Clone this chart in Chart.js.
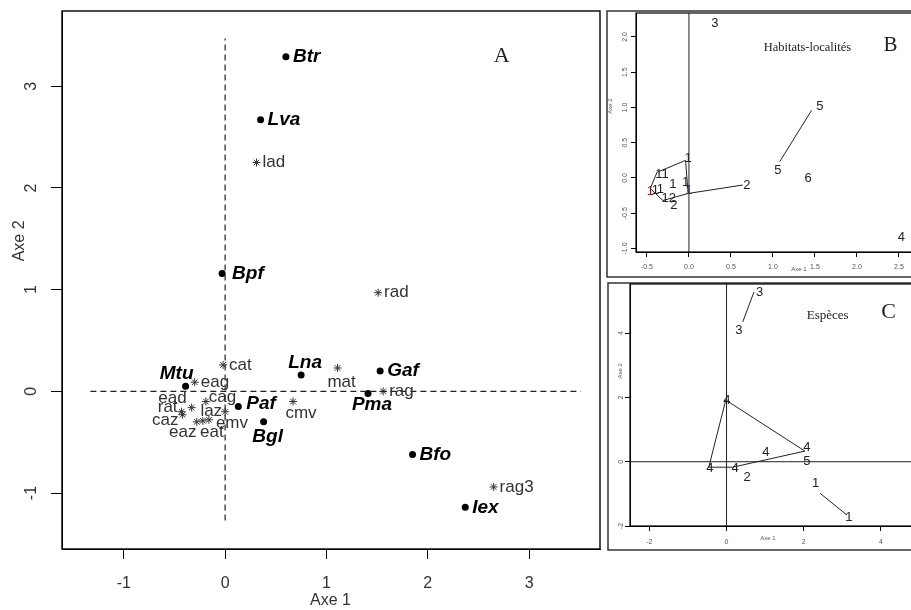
<!DOCTYPE html>
<html>
<head>
<meta charset="utf-8">
<script src="https://cdn.jsdelivr.net/npm/chart.js@4.4.1/dist/chart.umd.min.js"></script>
<style>
  html, body { margin: 0; padding: 0; background: #fff; width: 911px; height: 610px; overflow: hidden; position: relative; }
  .panel { position: absolute; }
  #boxA { left: 0; top: 0; width: 605px; height: 610px; }
  #boxB { left: 600px; top: 0; width: 330px; height: 280px; }
  #boxC { left: 600px; top: 280px; width: 330px; height: 280px; }
</style>
</head>
<body>
<div class="panel" id="boxA"><canvas id="chartA"></canvas></div>
<div class="panel" id="boxB"><canvas id="chartB"></canvas></div>
<div class="panel" id="boxC"><canvas id="chartC"></canvas></div>
<script>
// ---- Panel A : stations (bold) and variables (*) on axes 1-2
const siteNames = ["Btr", "Lva", "Bpf", "Mtu", "Lna", "Gaf", "Pma", "Paf", "Bgl", "Bfo", "Iex"];
const siteAxe1  = [0.60, 0.35, -0.03, -0.39, 0.75, 1.53, 1.41, 0.13, 0.38, 1.85, 2.37];
const siteAxe2  = [3.29, 2.67, 1.16, 0.05, 0.16, 0.20, -0.02, -0.15, -0.30, -0.62, -1.14];

const varNames = ["lad", "rad", "cat", "mat", "eag", "rag", "cag", "ead", "rat", "laz", "caz", "eaz", "eat", "emv", "cmv", "rag3"];
const varAxe1  = [0.31, 1.51, -0.02, 1.11, -0.30, 1.56, -0.19, -0.33, -0.43, 0.00, -0.42, -0.28, -0.22, -0.16, 0.67, 2.65];
const varAxe2  = [2.25, 0.97, 0.26, 0.23, 0.09, 0.00, -0.10, -0.16, -0.20, -0.20, -0.23, -0.30, -0.29, -0.28, -0.10, -0.94];

const crossA1 = [-1.33, 3.51];   // horizontal dashed axis (Axe 1 extent)
const crossA2 = [-1.27, 3.47];   // vertical dashed axis (Axe 2 extent)
const rangeA1 = [-1.61, 3.70];
const rangeA2 = [-1.55, 3.74];
const ticksA1 = [-1, 0, 1, 2, 3];
const ticksA2 = [-1, 0, 1, 2, 3];

// ---- Panel B : habitats-localités
const habLabels = ["3", "5", "5", "6", "4", "2", "11", "1", "1", "1", "1", "1", "1", "1", "12", "2"];
const habAxe1   = [0.31, 1.56, 1.06, 1.42, 2.53, 0.69, -0.32, -0.46, -0.40, -0.34, -0.19, -0.04, -0.01, 0.00, -0.24, -0.18];
const habAxe2   = [2.19, 1.02, 0.11, 0.00, -0.84, -0.10, 0.05, -0.19, -0.17, -0.16, -0.09, -0.06, 0.28, -0.17, -0.29, -0.39];
const habHullAxe1 = [-0.46, -0.38, -0.04, -0.01, -0.31, -0.46];
const habHullAxe2 = [-0.15, 0.08, 0.25, -0.22, -0.32, -0.15];
const habSeg5Axe1 = [1.46, 1.08];
const habSeg5Axe2 = [0.96, 0.23];
const habSeg2Axe1 = [-0.01, 0.64];
const habSeg2Axe2 = [-0.22, -0.10];
const rangeB1 = [-0.63, 2.81];
const rangeB2 = [-1.05, 2.34];
const ticksB1 = [-0.5, 0, 0.5, 1, 1.5, 2, 2.5];
const ticksB2 = [-1, -0.5, 0, 0.5, 1, 1.5, 2];

// ---- Panel C : espèces
const spLabels = ["3", "3", "4", "4", "5", "4", "4", "4", "2", "1", "1"];
const spAxe1   = [0.86, 0.32, 0.01, 2.08, 2.08, 1.02, -0.43, 0.22, 0.53, 2.31, 3.17];
const spAxe2   = [5.26, 4.07, 1.92, 0.43, 0.02, 0.30, -0.20, -0.20, -0.48, -0.69, -1.72];
const spHullAxe1 = [-0.02, 2.03, 0.16, -0.46, -0.02];
const spHullAxe2 = [1.92, 0.33, -0.17, -0.17, 1.92];
const spSeg3Axe1 = [0.71, 0.42];
const spSeg3Axe2 = [5.28, 4.35];
const spSeg1Axe1 = [2.42, 3.12];
const spSeg1Axe2 = [-0.98, -1.66];
const rangeC1 = [-2.5, 5.14];
const rangeC2 = [-2.0, 5.53];
const ticksC1 = [-2, 0, 2, 4];
const ticksC2 = [-2, 0, 2, 4];

const SANS = "'Liberation Sans', Arial, sans-serif";
const SERIF = "'Liberation Serif', 'Times New Roman', serif";

function pts(xs, ys) { return xs.map((x, i) => ({ x: x, y: ys[i] })); }

function lineSet(data, width, dash) {
  return { data: data, showLine: true, fill: false, tension: 0, pointRadius: 0,
           borderColor: '#222', borderWidth: width, borderDash: dash || [] };
}

function axis(range, ticks, o) {
  return {
    type: 'linear', min: range[0], max: range[1],
    afterBuildTicks: s => { s.ticks = ticks.map(v => ({ value: v })); },
    afterFit: s => { if (s.isHorizontal()) s.height = o.size; else s.width = o.size; },
    grid: { drawOnChartArea: false, drawTicks: true, tickLength: o.tick, color: '#000', lineWidth: 1 },
    border: { display: true, color: '#000', width: 1 },
    ticks: { display: !!o.show, autoSkip: false, maxRotation: 0, padding: o.pad || 0,
             color: o.color, font: { family: SANS, size: o.fs }, callback: o.fmt }
  };
}

// draws boxes, rotated y tick labels, axis titles, point labels and panel notes
const decor = {
  id: 'decor',
  afterDraw(chart, args, o) {
    const ctx = chart.ctx, a = chart.chartArea;
    const xs = chart.scales.x, ys = chart.scales.y;
    ctx.save();
    if (o.frame) {
      ctx.strokeStyle = '#333'; ctx.lineWidth = 1.5;
      ctx.strokeRect(o.frame[0], o.frame[1], o.frame[2] - o.frame[0], o.frame[3] - o.frame[1]);
    }
    ctx.strokeStyle = '#000'; ctx.lineWidth = o.boxWidth;
    ctx.strokeRect(a.left, a.top, a.right - a.left, a.bottom - a.top);

    ctx.textAlign = 'center'; ctx.textBaseline = 'middle';
    ctx.fillStyle = o.tickColor; ctx.font = o.tickFont;
    ys.ticks.forEach(t => {
      ctx.save();
      ctx.translate(a.left - o.yTickOffset, ys.getPixelForValue(t.value));
      ctx.rotate(-Math.PI / 2);
      ctx.fillText(o.fmt(t.value), 0, 0);
      ctx.restore();
    });

    ctx.fillStyle = o.titleColor; ctx.font = o.titleFont;
    ctx.fillText('Axe 1', xs.getPixelForValue(o.xTitle[0]), a.bottom + o.xTitle[1]);
    ctx.save();
    ctx.translate(a.left - o.yTitle[1], ys.getPixelForValue(o.yTitle[0]));
    ctx.rotate(-Math.PI / 2);
    ctx.fillText('Axe 2', 0, 0);
    ctx.restore();

    chart.data.datasets.forEach((ds, i) => {
      if (!ds.pointLabels) return;
      const meta = chart.getDatasetMeta(i);
      ctx.font = ds.labelFont;
      meta.data.forEach((el, j) => {
        const name = ds.pointLabels[j];
        const p = (o.place && o.place[name]) || ds.labelPlace;
        ctx.fillStyle = (ds.labelColors && ds.labelColors[j]) || ds.labelColor;
        ctx.textAlign = p[0];
        ctx.fillText(name, el.x + p[1], el.y + p[2]);
      });
    });

    ctx.textAlign = 'center'; ctx.fillStyle = '#222';
    (o.notes || []).forEach(n => {
      ctx.font = n.font;
      ctx.fillText(n.text, xs.getPixelForValue(n.x), ys.getPixelForValue(n.y));
    });
    ctx.restore();
  }
};

function baseOptions(scales, padding, decorOpts) {
  return {
    responsive: true, maintainAspectRatio: false, animation: false,
    layout: { padding: padding },
    scales: scales,
    plugins: { legend: { display: false }, tooltip: { enabled: false }, decor: decorOpts }
  };
}

const fmt0 = v => String(v);
const fmt1 = v => v.toFixed(1);

// ---------- chart A
new Chart(document.getElementById('chartA'), {
  type: 'scatter',
  data: {
    datasets: [
      lineSet([{ x: crossA1[0], y: 0 }, { x: crossA1[1], y: 0 }], 1.2, [6, 4]),
      lineSet([{ x: 0, y: crossA2[0] }, { x: 0, y: crossA2[1] }], 1.2, [6, 4]),
      { data: pts(varAxe1, varAxe2), pointStyle: 'star', pointRadius: 4, borderColor: '#333',
        borderWidth: 1, backgroundColor: '#333', pointLabels: varNames,
        labelFont: '17px ' + SANS, labelColor: '#333', labelPlace: ['left', 6, 0] },
      { data: pts(siteAxe1, siteAxe2), pointStyle: 'circle', pointRadius: 3.5, borderWidth: 0,
        backgroundColor: '#000', pointLabels: siteNames,
        labelFont: 'italic bold 19px ' + SANS, labelColor: '#000', labelPlace: ['left', 7, 0] }
    ]
  },
  options: baseOptions({
      x: axis(rangeA1, ticksA1, { size: 61, tick: 10, show: true, pad: 15, fs: 16, color: '#333', fmt: fmt0 }),
      y: axis(rangeA2, ticksA2, { size: 62, tick: 11 })
    }, { left: 0, top: 11, right: 4, bottom: 0 },
    { boxWidth: 1.4, tickFont: '16px ' + SANS, tickColor: '#333', yTickOffset: 30, fmt: fmt0,
      titleFont: '16px ' + SANS, titleColor: '#333', xTitle: [1.04, 52], yTitle: [1.48, 42],
      place: {
        mat: ['center', 4, 14], cag: ['left', 3, -4], ead: ['right', -5, -9], rat: ['right', -4, -4],
        laz: ['right', -3, 0], caz: ['right', -4, 6], eaz: ['center', -14, 10], eat: ['center', 9, 11],
        emv: ['left', 7, 3], cmv: ['center', 8, 12],
        Mtu: ['center', -9, -13], Lna: ['center', 4, -12], Pma: ['center', 4, 11],
        Paf: ['left', 8, -3], Bgl: ['center', 4, 15], Bpf: ['left', 10, 0]
      },
      notes: [{ text: 'A', x: 2.73, y: 3.30, font: '22px ' + SERIF }] }),
  plugins: [decor]
});

// ---------- chart B
new Chart(document.getElementById('chartB'), {
  type: 'scatter',
  data: {
    datasets: [
      lineSet([{ x: 0, y: rangeB2[0] }, { x: 0, y: rangeB2[1] }], 1),
      lineSet(pts(habHullAxe1, habHullAxe2), 1),
      lineSet(pts(habSeg5Axe1, habSeg5Axe2), 1),
      lineSet(pts(habSeg2Axe1, habSeg2Axe2), 1),
      { data: pts(habAxe1, habAxe2), pointRadius: 0, pointLabels: habLabels,
        labelFont: '13px ' + SANS, labelColor: '#222', labelPlace: ['center', 0, 0],
        labelColors: { 7: '#7a2020', 13: '#1f2f6a' } }
    ]
  },
  options: baseOptions({
      x: axis(rangeB1, ticksB1, { size: 28, tick: 5, show: true, pad: 6, fs: 7, color: '#555', fmt: fmt1 }),
      y: axis(rangeB2, ticksB2, { size: 36, tick: 5 })
    }, { left: 0, top: 13, right: 5, bottom: 0 },
    { frame: [7, 11, 400, 277], boxWidth: 1.2, tickFont: '7px ' + SANS, tickColor: '#555', yTickOffset: 11,
      fmt: fmt1, titleFont: '6px ' + SANS, titleColor: '#555', xTitle: [1.31, 17], yTitle: [1.02, 26],
      notes: [{ text: 'Habitats-localités', x: 1.41, y: 1.85, font: '12.5px ' + SERIF },
              { text: 'B', x: 2.40, y: 1.88, font: '21px ' + SERIF }] }),
  plugins: [decor]
});

// ---------- chart C
new Chart(document.getElementById('chartC'), {
  type: 'scatter',
  data: {
    datasets: [
      lineSet([{ x: 0, y: rangeC2[0] }, { x: 0, y: rangeC2[1] }], 1),
      lineSet([{ x: rangeC1[0], y: 0 }, { x: rangeC1[1], y: 0 }], 1),
      lineSet(pts(spHullAxe1, spHullAxe2), 1),
      lineSet(pts(spSeg3Axe1, spSeg3Axe2), 1),
      lineSet(pts(spSeg1Axe1, spSeg1Axe2), 1),
      { data: pts(spAxe1, spAxe2), pointRadius: 0, pointLabels: spLabels,
        labelFont: '13px ' + SANS, labelColor: '#222', labelPlace: ['center', 0, 0] }
    ]
  },
  options: baseOptions({
      x: axis(rangeC1, ticksC1, { size: 34, tick: 5, show: true, pad: 7, fs: 7, color: '#555', fmt: fmt0 }),
      y: axis(rangeC2, ticksC2, { size: 30, tick: 5 })
    }, { left: 0, top: 4, right: 5, bottom: 0 },
    { frame: [8, 3, 400, 270], boxWidth: 1.2, tickFont: '7px ' + SANS, tickColor: '#555', yTickOffset: 9,
      fmt: fmt0, titleFont: '6px ' + SANS, titleColor: '#555', xTitle: [1.07, 12], yTitle: [2.83, 10],
      notes: [{ text: 'Espèces', x: 2.62, y: 4.54, font: '13px ' + SERIF },
              { text: 'C', x: 4.2, y: 4.66, font: '22px ' + SERIF }] }),
  plugins: [decor]
});
</script>
</body>
</html>
